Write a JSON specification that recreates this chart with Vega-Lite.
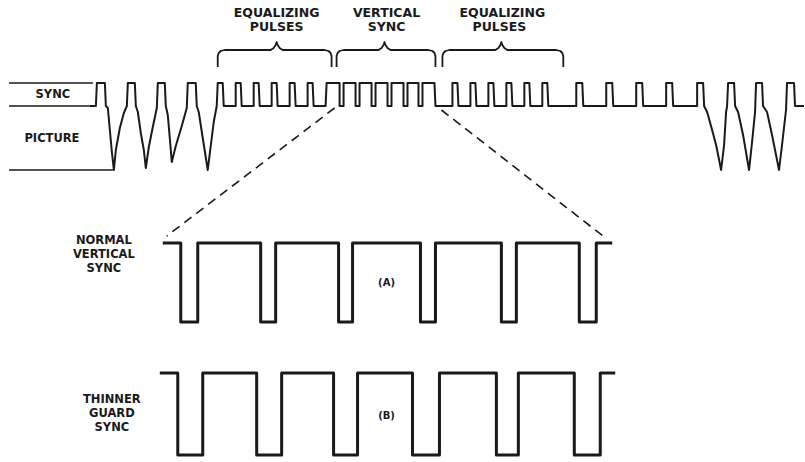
{
  "$schema": "https://vega.github.io/schema/vega-lite/v6.json",
  "width": 805,
  "height": 462,
  "autosize": {"type": "fit", "contains": "padding"},
  "padding": 0,
  "background": "#ffffff",
  "config": {"view": {"stroke": null}},
  "datasets": {
    "wave": [
      {"x":90,"y":106},{"x":96,"y":106},{"x":97,"y":83},{"x":105,"y":83},{"x":106,"y":106},
      {"x":108,"y":108},{"x":110,"y":130},{"x":112,"y":152},{"x":114,"y":170},{"x":116,"y":150},{"x":120,"y":128},{"x":124,"y":113},{"x":127,"y":106},
      {"x":128,"y":83},{"x":135,"y":83},{"x":136,"y":106},
      {"x":138,"y":112},{"x":141,"y":133},{"x":144,"y":150},{"x":146,"y":168},{"x":149,"y":147},{"x":153,"y":127},{"x":157,"y":108},
      {"x":158,"y":83},{"x":165,"y":83},{"x":166,"y":106},
      {"x":168,"y":115},{"x":170,"y":138},{"x":172,"y":162},{"x":176,"y":146},{"x":182,"y":126},{"x":187,"y":108},
      {"x":188,"y":83},{"x":196,"y":83},{"x":197,"y":106},
      {"x":199,"y":112},{"x":203,"y":138},{"x":208,"y":170},{"x":211,"y":146},{"x":214,"y":122},{"x":217,"y":106},
      {"x":218,"y":83},{"x":223,"y":83},{"x":224,"y":106},{"x":236,"y":106},{"x":236,"y":83},{"x":241,"y":83},{"x":242,"y":106},
      {"x":254,"y":106},{"x":254,"y":83},{"x":259,"y":83},{"x":260,"y":106},{"x":272,"y":106},{"x":272,"y":83},{"x":277,"y":83},{"x":278,"y":106},
      {"x":290,"y":106},{"x":290,"y":83},{"x":295,"y":83},{"x":296,"y":106},{"x":308,"y":106},{"x":308,"y":83},{"x":313,"y":83},{"x":314,"y":106},
      {"x":326,"y":106},{"x":327,"y":83},{"x":340,"y":83},{"x":340,"y":106},{"x":344,"y":106},{"x":344,"y":83},{"x":356,"y":83},{"x":356,"y":106},
      {"x":360,"y":106},{"x":360,"y":83},{"x":372,"y":83},{"x":372,"y":106},{"x":376,"y":106},{"x":376,"y":83},{"x":388,"y":83},{"x":388,"y":106},
      {"x":392,"y":106},{"x":392,"y":83},{"x":404,"y":83},{"x":404,"y":106},{"x":408,"y":106},{"x":408,"y":83},{"x":419,"y":83},{"x":419,"y":106},
      {"x":423,"y":106},{"x":423,"y":83},{"x":435,"y":83},{"x":436,"y":106},
      {"x":453,"y":106},{"x":453,"y":83},{"x":458,"y":83},{"x":459,"y":106},{"x":471,"y":106},{"x":471,"y":83},{"x":476,"y":83},{"x":477,"y":106},
      {"x":489,"y":106},{"x":489,"y":83},{"x":494,"y":83},{"x":495,"y":106},{"x":507,"y":106},{"x":507,"y":83},{"x":512,"y":83},{"x":513,"y":106},
      {"x":525,"y":106},{"x":525,"y":83},{"x":530,"y":83},{"x":531,"y":106},{"x":543,"y":106},{"x":543,"y":83},{"x":548,"y":83},{"x":549,"y":106},
      {"x":577,"y":106},{"x":577,"y":83},{"x":583,"y":83},{"x":584,"y":106},{"x":607,"y":106},{"x":607,"y":83},{"x":613,"y":83},{"x":614,"y":106},
      {"x":637,"y":106},{"x":637,"y":83},{"x":643,"y":83},{"x":644,"y":106},{"x":667,"y":106},{"x":667,"y":83},{"x":673,"y":83},{"x":674,"y":106},
      {"x":698,"y":106},{"x":698,"y":83},{"x":704,"y":83},{"x":705,"y":106},
      {"x":708,"y":112},{"x":713,"y":130},{"x":717,"y":145},{"x":722,"y":170},{"x":725,"y":145},{"x":727,"y":112},{"x":728,"y":106},{"x":729,"y":83},{"x":735,"y":83},{"x":736,"y":106},
      {"x":739,"y":112},{"x":744,"y":135},{"x":750,"y":170},{"x":753,"y":142},{"x":756,"y":112},{"x":757,"y":83},{"x":763,"y":83},{"x":764,"y":106},
      {"x":768,"y":112},{"x":773,"y":135},{"x":780,"y":170},{"x":783,"y":145},{"x":787,"y":110},{"x":788,"y":83},{"x":795,"y":83},{"x":796,"y":106},{"x":805,"y":106}
    ],
    "zoomed": [
      {"s":"A","x":163,"y":243},{"s":"A","x":181,"y":243},{"s":"A","x":181,"y":322},{"s":"A","x":198,"y":322},{"s":"A","x":198,"y":243},
      {"s":"A","x":261,"y":243},{"s":"A","x":261,"y":322},{"s":"A","x":276,"y":322},{"s":"A","x":276,"y":243},
      {"s":"A","x":339,"y":243},{"s":"A","x":339,"y":322},{"s":"A","x":353,"y":322},{"s":"A","x":353,"y":243},
      {"s":"A","x":421,"y":243},{"s":"A","x":421,"y":322},{"s":"A","x":436,"y":322},{"s":"A","x":436,"y":243},
      {"s":"A","x":502,"y":243},{"s":"A","x":502,"y":322},{"s":"A","x":517,"y":322},{"s":"A","x":517,"y":243},
      {"s":"A","x":580,"y":243},{"s":"A","x":580,"y":322},{"s":"A","x":597,"y":322},{"s":"A","x":597,"y":243},{"s":"A","x":613,"y":243},
      {"s":"B","x":160,"y":373},{"s":"B","x":178,"y":373},{"s":"B","x":178,"y":455},{"s":"B","x":203,"y":455},{"s":"B","x":203,"y":373},
      {"s":"B","x":257,"y":373},{"s":"B","x":257,"y":455},{"s":"B","x":282,"y":455},{"s":"B","x":282,"y":373},
      {"s":"B","x":334,"y":373},{"s":"B","x":334,"y":455},{"s":"B","x":358,"y":455},{"s":"B","x":358,"y":373},
      {"s":"B","x":413,"y":373},{"s":"B","x":413,"y":455},{"s":"B","x":440,"y":455},{"s":"B","x":440,"y":373},
      {"s":"B","x":497,"y":373},{"s":"B","x":497,"y":455},{"s":"B","x":519,"y":455},{"s":"B","x":519,"y":373},
      {"s":"B","x":575,"y":373},{"s":"B","x":575,"y":455},{"s":"B","x":601,"y":455},{"s":"B","x":601,"y":373},{"s":"B","x":616,"y":373}
    ],
    "refs": [
      {"s":"top","x":9,"y":83},{"s":"top","x":93,"y":83},
      {"s":"mid","x":9,"y":106},{"s":"mid","x":90,"y":106},
      {"s":"bot","x":9,"y":170},{"s":"bot","x":113,"y":170}
    ],
    "braces": [
      {"s":"b1","x":218,"y":67},{"s":"b1","x":218,"y":56},{"s":"b1","x":219,"y":53},{"s":"b1","x":221,"y":51},{"s":"b1","x":225,"y":50},{"s":"b1","x":271,"y":50},{"s":"b1","x":274,"y":48},{"s":"b1","x":276,"y":45},{"s":"b1","x":277,"y":42},{"s":"b1","x":278,"y":45},{"s":"b1","x":280,"y":48},{"s":"b1","x":283,"y":50},{"s":"b1","x":325,"y":50},{"s":"b1","x":329,"y":51},{"s":"b1","x":331,"y":53},{"s":"b1","x":332,"y":56},{"s":"b1","x":332,"y":67},
      {"s":"b2","x":337,"y":67},{"s":"b2","x":337,"y":56},{"s":"b2","x":338,"y":53},{"s":"b2","x":340,"y":51},{"s":"b2","x":344,"y":50},{"s":"b2","x":379,"y":50},{"s":"b2","x":382,"y":48},{"s":"b2","x":384,"y":45},{"s":"b2","x":385,"y":42},{"s":"b2","x":386,"y":45},{"s":"b2","x":388,"y":48},{"s":"b2","x":391,"y":50},{"s":"b2","x":429,"y":50},{"s":"b2","x":433,"y":51},{"s":"b2","x":435,"y":53},{"s":"b2","x":436,"y":56},{"s":"b2","x":436,"y":67},
      {"s":"b3","x":443,"y":67},{"s":"b3","x":443,"y":56},{"s":"b3","x":444,"y":53},{"s":"b3","x":446,"y":51},{"s":"b3","x":450,"y":50},{"s":"b3","x":496,"y":50},{"s":"b3","x":499,"y":48},{"s":"b3","x":501,"y":45},{"s":"b3","x":502,"y":42},{"s":"b3","x":503,"y":45},{"s":"b3","x":505,"y":48},{"s":"b3","x":508,"y":50},{"s":"b3","x":557,"y":50},{"s":"b3","x":561,"y":51},{"s":"b3","x":563,"y":53},{"s":"b3","x":564,"y":56},{"s":"b3","x":564,"y":67}
    ],
    "dashes": [
      {"s":"L","x":335,"y":108},{"s":"L","x":167,"y":236},
      {"s":"R","x":442,"y":110},{"s":"R","x":605,"y":237}
    ],
    "toplabels": [
      {"x":277,"y":13,"t":"EQUALIZING"},{"x":277,"y":27,"t":"PULSES"},
      {"x":387,"y":13,"t":"VERTICAL"},{"x":387,"y":27,"t":"SYNC"},
      {"x":503,"y":13,"t":"EQUALIZING"},{"x":500,"y":27,"t":"PULSES"}
    ],
    "sidelabels": [
      {"x":53,"y":95,"t":"SYNC"},{"x":52,"y":139,"t":"PICTURE"},
      {"x":104,"y":241,"t":"NORMAL"},{"x":104,"y":255,"t":"VERTICAL"},{"x":104,"y":269,"t":"SYNC"},
      {"x":112,"y":400,"t":"THINNER"},{"x":112,"y":414,"t":"GUARD"},{"x":112,"y":428,"t":"SYNC"}
    ],
    "tags": [
      {"x":387,"y":283,"t":"(A)"},{"x":387,"y":416,"t":"(B)"}
    ]
  },
  "encoding": {
    "x": {"field":"x","type":"quantitative","scale":{"domain":[0,805],"nice":false,"zero":false},"axis":null},
    "y": {"field":"y","type":"quantitative","scale":{"domain":[0,462],"nice":false,"zero":false,"reverse":true},"axis":null}
  },
  "layer": [
    {"data":{"name":"refs"},"mark":{"type":"line","color":"#1a1a1a","strokeWidth":1.6},"encoding":{"detail":{"field":"s"},"order":{"value":null}}},
    {"data":{"name":"wave"},"mark":{"type":"line","color":"#1a1a1a","strokeWidth":2,"strokeJoin":"round"},"encoding":{"order":{"value":null}}},
    {"data":{"name":"zoomed"},"mark":{"type":"line","color":"#1a1a1a","strokeWidth":3,"strokeJoin":"round"},"encoding":{"detail":{"field":"s"},"order":{"value":null}}},
    {"data":{"name":"braces"},"mark":{"type":"line","color":"#1a1a1a","strokeWidth":1.8,"strokeJoin":"round"},"encoding":{"detail":{"field":"s"},"order":{"value":null}}},
    {"data":{"name":"dashes"},"mark":{"type":"line","color":"#1a1a1a","strokeWidth":1.6,"strokeDash":[9,6]},"encoding":{"detail":{"field":"s"},"order":{"value":null}}},
    {"data":{"name":"toplabels"},"mark":{"type":"text","font":"DejaVu Sans","fontWeight":"bold","fontSize":12.5,"color":"#1a1a1a","align":"center","baseline":"middle"},"encoding":{"text":{"field":"t"}}},
    {"data":{"name":"sidelabels"},"mark":{"type":"text","font":"DejaVu Sans","fontWeight":"bold","fontSize":11.5,"color":"#1a1a1a","align":"center","baseline":"middle"},"encoding":{"text":{"field":"t"}}},
    {"data":{"name":"tags"},"mark":{"type":"text","font":"DejaVu Sans","fontWeight":"bold","fontSize":10,"color":"#1a1a1a","align":"center","baseline":"middle"},"encoding":{"text":{"field":"t"}}}
  ]
}
